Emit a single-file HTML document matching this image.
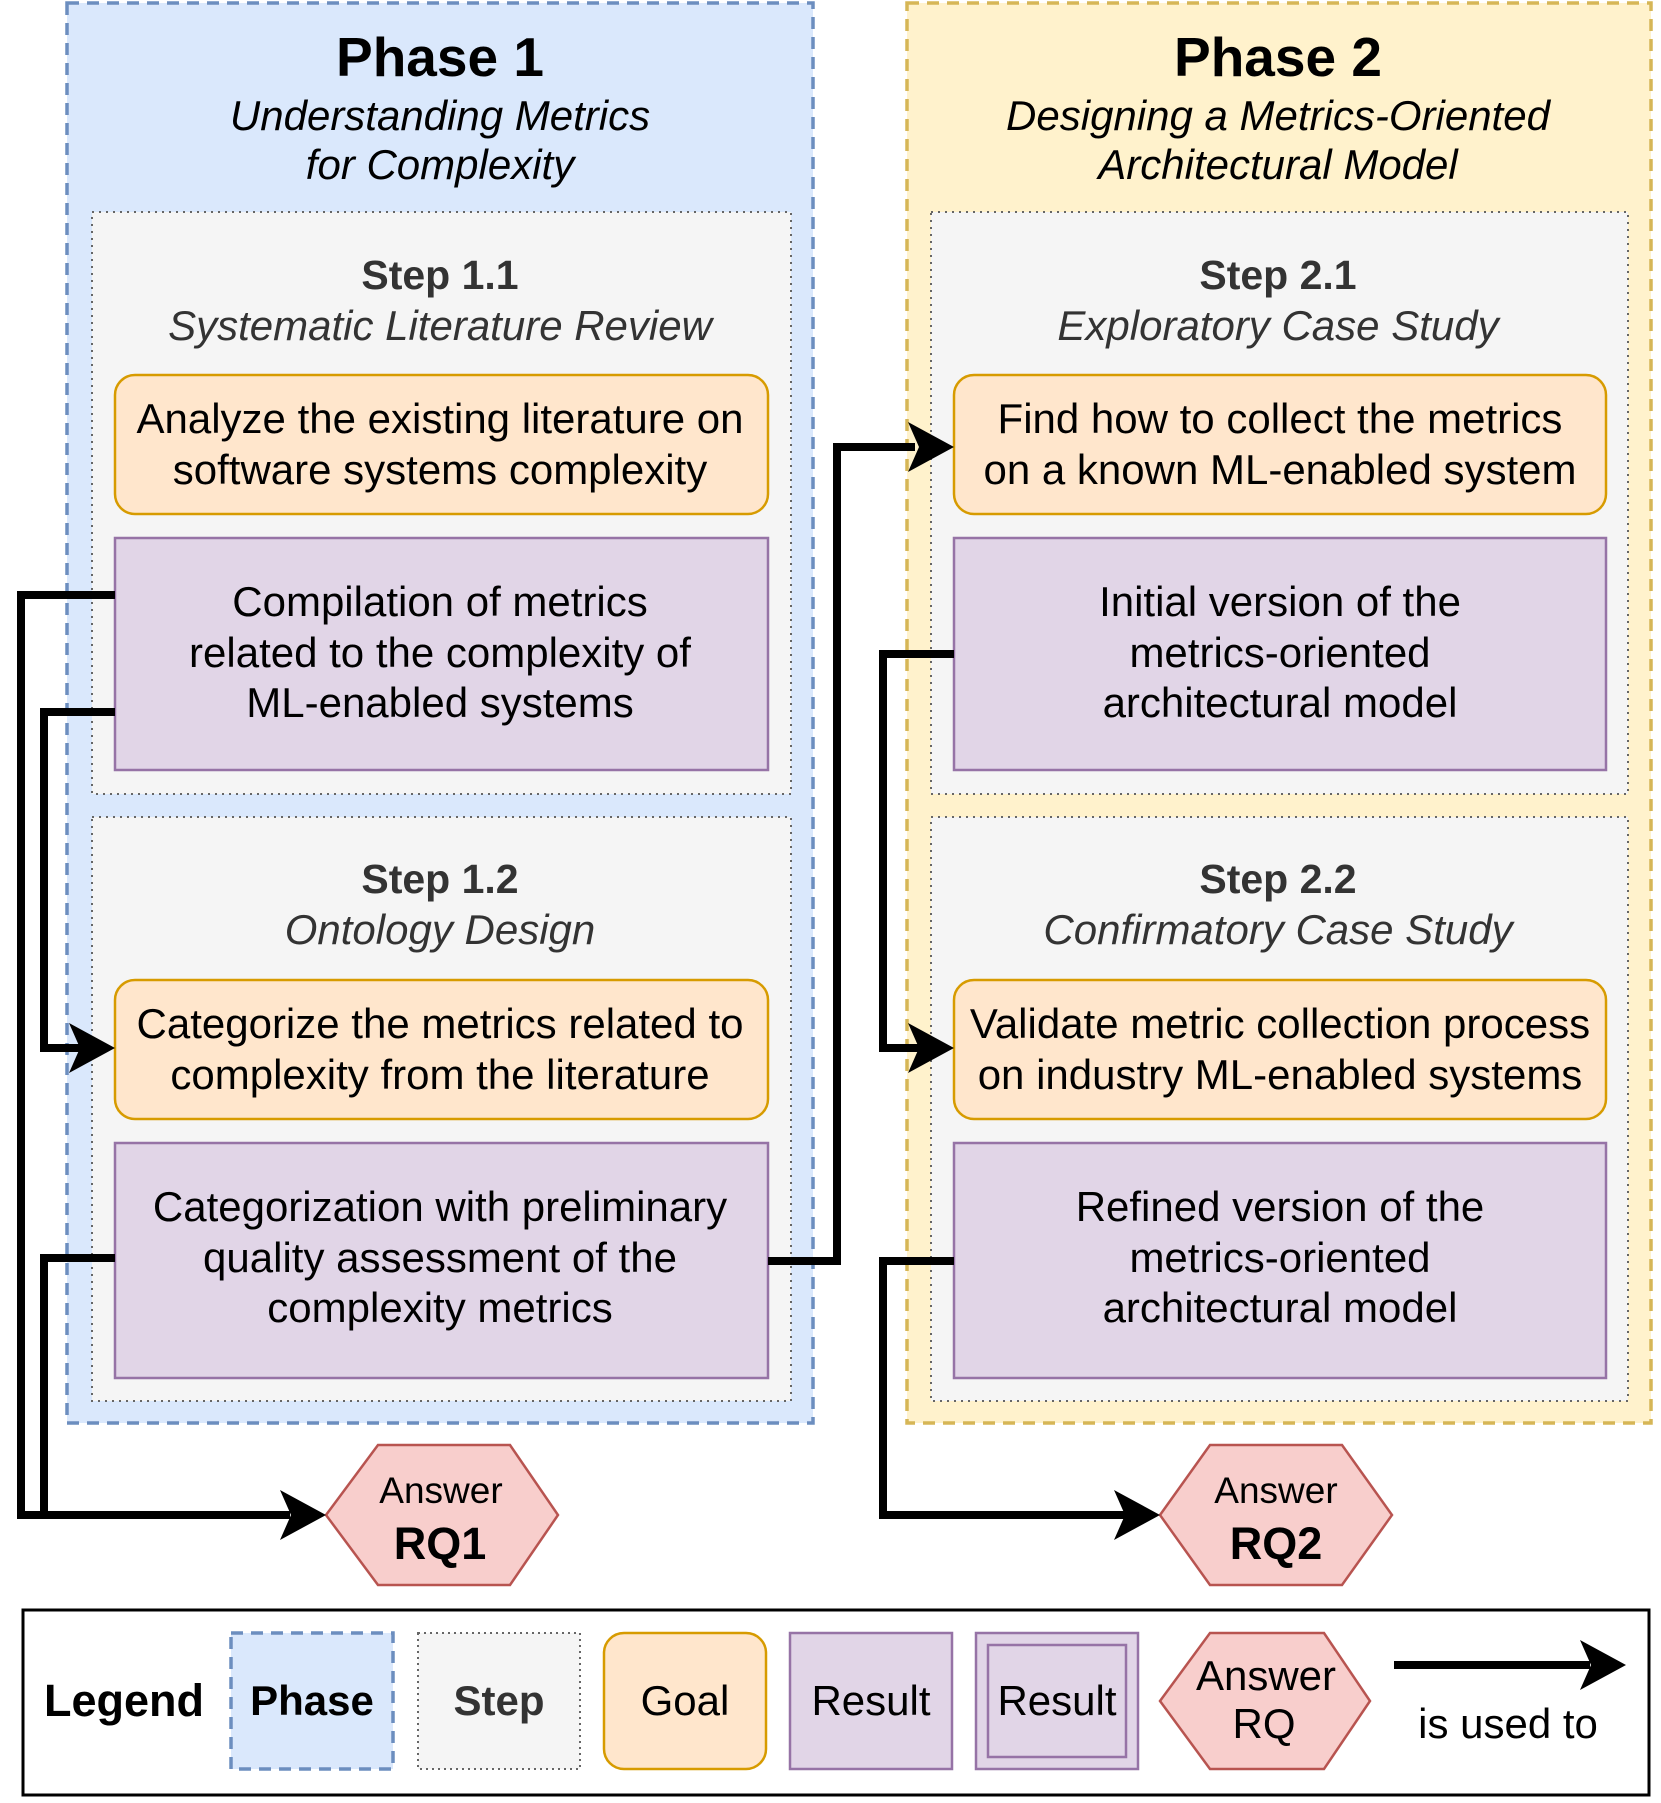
<!DOCTYPE html>
<html><head><meta charset="utf-8"><style>body{margin:0;background:#fff}svg{display:block}</style></head>
<body>
<svg width="1661" height="1803" viewBox="0 0 1661 1803" xmlns="http://www.w3.org/2000/svg" font-family="Liberation Sans, Arial, sans-serif">
<!-- Phases -->
<rect x="67" y="3" width="746" height="1420" fill="#dae8fc" stroke="#6c8ebf" stroke-width="3.5" stroke-dasharray="12 8"/>
<rect x="907" y="3" width="744" height="1420" fill="#fff2cc" stroke="#d6b656" stroke-width="3.5" stroke-dasharray="12 8"/>
<g text-anchor="middle">
<text x="440" y="76" font-size="55" font-weight="bold">Phase 1</text>
<text x="440" y="130" font-size="42" font-style="italic">Understanding Metrics</text>
<text x="440" y="179" font-size="42" font-style="italic">for Complexity</text>
<text x="1278" y="76" font-size="55" font-weight="bold">Phase 2</text>
<text x="1278" y="130" font-size="42" font-style="italic">Designing a Metrics-Oriented</text>
<text x="1278" y="179" font-size="42" font-style="italic">Architectural Model</text>
</g>
<!-- Steps -->
<g fill="#f5f5f5" stroke="#666" stroke-width="2" stroke-dasharray="2 5">
<rect x="92" y="212" width="699" height="582"/>
<rect x="92" y="817" width="699" height="584"/>
<rect x="931" y="212" width="697" height="582"/>
<rect x="931" y="817" width="697" height="584"/>
</g>
<g text-anchor="middle" fill="#333">
<text x="440" y="289" font-size="41" font-weight="bold">Step 1.1</text>
<text x="440" y="340" font-size="42" font-style="italic">Systematic Literature Review</text>
<text x="440" y="893" font-size="41" font-weight="bold">Step 1.2</text>
<text x="440" y="944" font-size="42" font-style="italic">Ontology Design</text>
<text x="1278" y="289" font-size="41" font-weight="bold">Step 2.1</text>
<text x="1278" y="340" font-size="42" font-style="italic">Exploratory Case Study</text>
<text x="1278" y="893" font-size="41" font-weight="bold">Step 2.2</text>
<text x="1278" y="944" font-size="42" font-style="italic">Confirmatory Case Study</text>
</g>
<!-- Goals -->
<g fill="#ffe6cc" stroke="#d79b00" stroke-width="2.5">
<rect x="115" y="375" width="653" height="139" rx="20"/>
<rect x="115" y="980" width="653" height="139" rx="20"/>
<rect x="954" y="375" width="652" height="139" rx="20"/>
<rect x="954" y="980" width="652" height="139" rx="20"/>
</g>
<!-- Results -->
<g fill="#e1d5e7" stroke="#9673a6" stroke-width="2.5">
<rect x="115" y="538" width="653" height="232"/>
<rect x="115" y="1143" width="653" height="235"/>
<rect x="954" y="538" width="652" height="232"/>
<rect x="954" y="1143" width="652" height="235"/>
</g>
<g text-anchor="middle" font-size="42" fill="#000">
<text x="440" y="433">Analyze the existing literature on</text>
<text x="440" y="484">software systems complexity</text>
<text x="440" y="616">Compilation of metrics</text>
<text x="440" y="667">related to the complexity of</text>
<text x="440" y="717">ML-enabled systems</text>
<text x="440" y="1038">Categorize the metrics related to</text>
<text x="440" y="1089">complexity from the literature</text>
<text x="440" y="1221">Categorization with preliminary</text>
<text x="440" y="1272">quality assessment of the</text>
<text x="440" y="1322">complexity metrics</text>
<text x="1280" y="433">Find how to collect the metrics</text>
<text x="1280" y="484">on a known ML-enabled system</text>
<text x="1280" y="616">Initial version of the</text>
<text x="1280" y="667">metrics-oriented</text>
<text x="1280" y="717">architectural model</text>
<text x="1280" y="1038">Validate metric collection process</text>
<text x="1280" y="1089">on industry ML-enabled systems</text>
<text x="1280" y="1221">Refined version of the</text>
<text x="1280" y="1272">metrics-oriented</text>
<text x="1280" y="1322">architectural model</text>
</g>
<!-- Hexagons -->
<g fill="#f8cecc" stroke="#b85450" stroke-width="2.5">
<polygon points="378,1445 510,1445 558,1515 510,1585 378,1585 326,1515"/>
<polygon points="1210,1445 1342,1445 1392,1515 1342,1585 1210,1585 1160,1515"/>
</g>
<g text-anchor="middle">
<text x="441" y="1503" font-size="37">Answer</text>
<text x="440" y="1559" font-size="45" font-weight="bold">RQ1</text>
<text x="1276" y="1503" font-size="37">Answer</text>
<text x="1276" y="1559" font-size="45" font-weight="bold">RQ2</text>
</g>
<!-- Connectors -->
<g fill="none" stroke="#000" stroke-width="8" stroke-linejoin="miter">
<path d="M115 595 H21 V1515 H290"/>
<path d="M115 712 H44 V1048 H80"/>
<path d="M115 1258 H44 V1515"/>
<path d="M768 1261 H837 V447 H915"/>
<path d="M954 654 H883 V1048 H919"/>
<path d="M954 1261 H883 V1515 H1125"/>
</g>
<g fill="#000">
<polygon points="326,1515 280,1490 291,1515 280,1540"/>
<polygon points="115,1048 69,1023 80,1048 69,1073"/>
<polygon points="954,447 908,422 919,447 908,472"/>
<polygon points="954,1048 908,1023 919,1048 908,1073"/>
<polygon points="1160,1515 1114,1490 1125,1515 1114,1540"/>
</g>
<!-- Legend -->
<rect x="23" y="1610" width="1626" height="185" fill="#fff" stroke="#000" stroke-width="3"/>
<text x="44" y="1716" font-size="45" font-weight="bold">Legend</text>
<rect x="231" y="1633" width="162" height="136" fill="#dae8fc" stroke="#6c8ebf" stroke-width="3.5" stroke-dasharray="12 8"/>
<rect x="418" y="1633" width="162" height="136" fill="#f5f5f5" stroke="#666" stroke-width="2" stroke-dasharray="2 4"/>
<rect x="604" y="1633" width="162" height="136" rx="20" fill="#ffe6cc" stroke="#d79b00" stroke-width="2.5"/>
<rect x="790" y="1633" width="162" height="136" fill="#e1d5e7" stroke="#9673a6" stroke-width="2.5"/>
<rect x="976" y="1633" width="162" height="136" fill="#e1d5e7" stroke="#9673a6" stroke-width="2.5"/>
<rect x="988" y="1645" width="138" height="112" fill="none" stroke="#9673a6" stroke-width="2.5"/>
<polygon points="1210,1633 1324,1633 1370,1701 1324,1769 1210,1769 1160,1701" fill="#f8cecc" stroke="#b85450" stroke-width="2.5"/>
<g text-anchor="middle" font-size="42">
<text x="312" y="1715" font-weight="bold">Phase</text>
<text x="499" y="1715" font-weight="bold" fill="#333">Step</text>
<text x="685" y="1715">Goal</text>
<text x="871" y="1715">Result</text>
<text x="1057" y="1715">Result</text>
<text x="1266" y="1690">Answer</text>
<text x="1264" y="1738">RQ</text>
<text x="1508" y="1738">is used to</text>
</g>
<line x1="1394" y1="1665" x2="1590" y2="1665" stroke="#000" stroke-width="8"/>
<polygon points="1626,1665 1580,1640 1591,1665 1580,1690" fill="#000"/>
</svg>
</body></html>
